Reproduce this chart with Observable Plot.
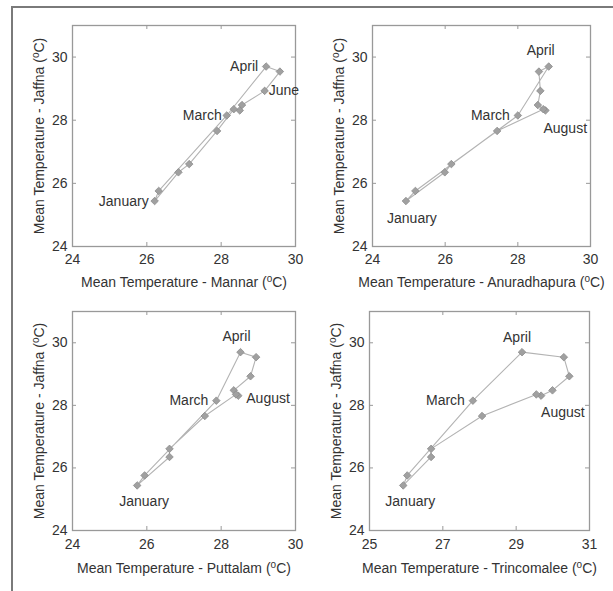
<!DOCTYPE html>
<html><head><meta charset="utf-8">
<script src="https://cdn.jsdelivr.net/npm/d3@7"></script>
<script src="https://cdn.jsdelivr.net/npm/@observablehq/plot@0.6"></script>
<style>
body{margin:0;background:#fff;font-family:"Liberation Sans",Arial,sans-serif;}
#wrap{position:relative;width:613px;height:591px;overflow:hidden;background:#fff;}
#border{position:absolute;left:11px;top:6px;width:640px;height:640px;border-left:2px solid #7a7a7a;border-top:2px solid #7a7a7a;}
.panel{position:absolute;}
</style></head><body><div id="wrap"><div id="border"></div></div>
<script>
const months = ["January","February","March","April","May","June","July","August","September","October","November","December"];
const jaffna = [25.44, 25.76, 28.15, 29.70, 29.54, 28.93, 28.48, 28.31, 28.35, 27.66, 26.61, 26.35];
const mannar = [26.21, 26.32, 28.15, 29.21, 29.58, 29.17, 28.56, 28.50, 28.34, 27.89, 27.14, 26.85];
const anuradhapura = [24.92, 25.18, 28.00, 28.85, 28.58, 28.62, 28.55, 28.76, 28.70, 27.43, 26.17, 25.99];
const puttalam = [25.74, 25.94, 27.87, 28.52, 28.94, 28.79, 28.34, 28.46, 28.40, 27.56, 26.61, 26.61];
const trincomalee = [25.92, 26.03, 27.82, 29.16, 30.30, 30.45, 29.99, 29.68, 29.55, 28.07, 26.68, 26.68];
const stationNames = ["Mannar", "Anuradhapura", "Puttalam", "Trincomalee"];
const xTicksA = [24, 26, 28, 30];
const xTicksB = [25, 27, 29, 31];
const yTicks = [24, 26, 28, 30];
const yLabel = "Mean Temperature - Jaffna (oC)";

const stationSeries = [mannar, anuradhapura, puttalam, trincomalee];
const xTickSets = [xTicksA, xTicksA, xTicksA, xTicksB];

// layout (positions / styles only)
const layout = [
  {left:0,   top:0,   mt:25, mr:5,  mb:44, ml:72, pad:8, xl:36},
  {left:300, top:0,   mt:25, mr:10, mb:44, ml:72, pad:8, xl:36},
  {left:0,   top:290, mt:21, mr:5,  mb:50, ml:72, pad:9, xl:38},
  {left:300, top:290, mt:21, mr:11, mb:50, ml:69, pad:9, xl:38}
];
const annotations = [
  [{m:0,a:"end",dx:-6,dy:0},{m:2,a:"end",dx:-5,dy:0},{m:3,a:"end",dx:-8,dy:0},{m:5,a:"start",dx:4,dy:0}],
  [{m:0,a:"middle",dx:6,dy:17},{m:2,a:"end",dx:-8,dy:0},{m:3,a:"middle",dx:-8,dy:-16},{m:7,a:"start",dx:-2,dy:18}],
  [{m:0,a:"middle",dx:7,dy:16},{m:2,a:"end",dx:-8,dy:0},{m:3,a:"middle",dx:-4,dy:-16},{m:7,a:"start",dx:8,dy:3}],
  [{m:0,a:"middle",dx:7,dy:16},{m:2,a:"end",dx:-8,dy:0},{m:3,a:"middle",dx:-5,dy:-15},{m:7,a:"start",dx:0,dy:17}]
];

const W = 300, H = 290;
const wrap = document.getElementById("wrap");
const gray = "#999";

function supify(svg) {
  svg.querySelectorAll("text").forEach(t => {
    const s = t.textContent;
    if (s.includes("(oC)")) {
      const [before] = s.split("(oC)");
      t.textContent = "";
      const ns = "http://www.w3.org/2000/svg";
      const a = document.createElementNS(ns, "tspan"); a.textContent = before + "(";
      const b = document.createElementNS(ns, "tspan"); b.textContent = "o";
      b.setAttribute("baseline-shift", "super"); b.setAttribute("font-size", "10px");
      const c = document.createElementNS(ns, "tspan"); c.textContent = "C)";
      t.append(a, b, c);
    }
  });
}

stationSeries.forEach((xs, i) => {
  const L = layout[i];
  const xt = xTickSets[i];
  const data = months.map((m, k) => ({month: m, x: xs[k], y: jaffna[k]}));
  const loop = [...data, data[0]];
  const fw = W - L.ml - L.mr, fh = H - L.mt - L.mb;
  const xLabel = `Mean Temperature - ${stationNames[i]} (oC)`;
  const marks = [
    Plot.line(loop, {x: "x", y: "y", stroke: "#b3b3b3", strokeWidth: 1.1}),
    Plot.dot(data, {x: "x", y: "y", symbol: "diamond2", r: 3.4, fill: "#a0a0a0", stroke: "#8c8c8c", strokeWidth: 0.8}),
    Plot.frame({stroke: gray, strokeWidth: 1.3}),
    Plot.tickX(xt, {x: d => d, insetTop: fh - 4, stroke: gray}),
    Plot.tickX(xt, {x: d => d, insetBottom: fh - 4, stroke: gray}),
    Plot.tickY(yTicks, {y: d => d, insetRight: fw - 4, stroke: gray}),
    Plot.tickY(yTicks, {y: d => d, insetLeft: fw - 4, stroke: gray}),
    Plot.axisX(xt, {tickSize: 0, tickPadding: L.pad, fontSize: 14, fill: "#333", label: null}),
    Plot.axisY(yTicks, {tickSize: 0, tickPadding: 5, fontSize: 14, fill: "#333", label: null}),
    Plot.text([xLabel], {frameAnchor: "bottom", textAnchor: "middle", lineAnchor: "middle", dy: L.xl, fontSize: 14, fill: "#333"}),
    Plot.text([yLabel], {frameAnchor: "left", textAnchor: "middle", lineAnchor: "middle", rotate: -90, dx: -33, fontSize: 14, fill: "#333"})
  ];
  annotations[i].forEach(an => {
    marks.push(Plot.text([data[an.m]], {x: "x", y: "y", text: "month", textAnchor: an.a, dx: an.dx, dy: an.dy, fontSize: 14, fill: "#333"}));
  });
  const svg = Plot.plot({
    width: W, height: H,
    marginTop: L.mt, marginRight: L.mr, marginBottom: L.mb, marginLeft: L.ml,
    x: {domain: [xt[0], xt[xt.length - 1]], axis: null},
    y: {domain: [24, 31], axis: null},
    style: {fontFamily: "'Liberation Sans', Arial, sans-serif", fontSize: "14px", background: "transparent", overflow: "visible", color: "#333"},
    marks
  });
  supify(svg);
  const div = document.createElement("div");
  div.className = "panel";
  div.style.left = L.left + "px";
  div.style.top = L.top + "px";
  div.appendChild(svg);
  wrap.appendChild(div);
});
</script>
</body></html>
